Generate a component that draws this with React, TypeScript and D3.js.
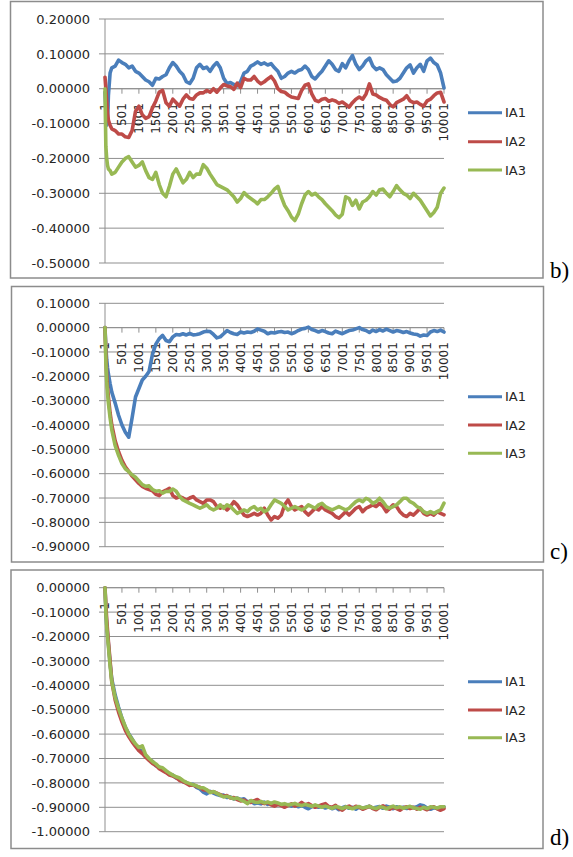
import React from "react";
import * as d3 from "d3";

// category axis: iteration index (1 .. 10001)
const STEPS: number[] = [1, 26, 51, 76, 101, 151, 201, ...d3.range(301, 10002, 100)];
const X_TICK_LABELS: number[] = d3.range(1, 10002, 500);
const SERIES_NAMES = ["IA1", "IA2", "IA3"];
const COLORS = ["#4A7EBB", "#BE4B48", "#98B954"];

// ---------- panel b ----------
const B_IA1 = [
  -0.01, -0.06, -0.105, -0.09, -0.02, 0.045, 0.06,
  0.065, 0.082, 0.075, 0.07, 0.06, 0.065, 0.05, 0.045, 0.035, 0.025,
  0.02, 0.01, 0.03, 0.028, 0.035, 0.04, 0.06, 0.075, 0.065, 0.05,
  0.04, 0.02, 0.015, 0.03, 0.06, 0.07, 0.058, 0.062, 0.05, 0.065,
  0.075, 0.06, 0.03, 0.015, 0.018, 0.012, 0.008, 0.02, 0.045, 0.05,
  0.065, 0.07, 0.077, 0.07, 0.074, 0.068, 0.072, 0.06, 0.05, 0.03,
  0.035, 0.045, 0.05, 0.045, 0.052, 0.055, 0.065, 0.055, 0.035, 0.028,
  0.04, 0.05, 0.065, 0.08, 0.07, 0.055, 0.05, 0.072, 0.06, 0.08,
  0.095, 0.07, 0.055, 0.065, 0.08, 0.088, 0.065, 0.055, 0.06, 0.055,
  0.04, 0.03, 0.02, 0.022, 0.03, 0.045, 0.06, 0.068, 0.045, 0.06,
  0.07, 0.05, 0.08, 0.088, 0.075, 0.068, 0.045, 0.002,
];
const B_IA2 = [
  0.033, 0.0, -0.035, -0.07, -0.09, -0.105, -0.115,
  -0.12, -0.13, -0.13, -0.138, -0.14, -0.12, -0.065, -0.05, -0.075, -0.085,
  -0.08, -0.055, -0.035, -0.01, -0.005, -0.04, -0.05, -0.03, -0.04, -0.05,
  -0.03, -0.018, -0.028, -0.03, -0.018, -0.012, -0.012, -0.005, -0.01, 0.0,
  -0.01, 0.002, 0.012, 0.008, 0.006, -0.002, 0.016, 0.003, 0.03, 0.025,
  0.025, 0.035, 0.022, 0.014, 0.02, 0.028, 0.035, 0.022, 0.0, -0.008,
  -0.01, -0.018, -0.024, -0.026, -0.028, -0.005, 0.01, 0.014, -0.015, -0.033,
  -0.037, -0.03, -0.028, -0.036, -0.032, -0.035, -0.042, -0.038, -0.045, -0.053,
  -0.04, -0.03, -0.024, -0.03, -0.015, 0.014, -0.015, -0.018, -0.025, -0.03,
  -0.033, -0.045, -0.052, -0.04, -0.035, -0.03, -0.02, -0.035, -0.04, -0.038,
  -0.045, -0.05, -0.035, -0.03, -0.02, -0.012, -0.01, -0.038,
];
const B_IA3 = [
  0.0, -0.165, -0.2, -0.22, -0.23, -0.235, -0.245,
  -0.24, -0.225, -0.21, -0.2, -0.195, -0.21, -0.225, -0.22, -0.21, -0.235,
  -0.255, -0.26, -0.24, -0.275, -0.3, -0.31, -0.28, -0.245, -0.23, -0.25,
  -0.27, -0.26, -0.24, -0.255, -0.245, -0.245, -0.218, -0.228, -0.245, -0.26,
  -0.275, -0.28, -0.285, -0.29, -0.3, -0.31, -0.325, -0.315, -0.298, -0.308,
  -0.315, -0.322, -0.33, -0.318, -0.318, -0.31, -0.3, -0.288, -0.28, -0.31,
  -0.335, -0.35, -0.368, -0.378, -0.36, -0.33, -0.305, -0.295, -0.305, -0.3,
  -0.31, -0.318, -0.33, -0.34, -0.35, -0.362, -0.37, -0.36, -0.31, -0.315,
  -0.335, -0.32, -0.345, -0.325, -0.32, -0.31, -0.295, -0.305, -0.29, -0.288,
  -0.3, -0.31, -0.295, -0.278, -0.29, -0.3, -0.305, -0.315, -0.3, -0.31,
  -0.32, -0.335, -0.35, -0.365, -0.355, -0.34, -0.3, -0.285,
];

// ---------- panel c ----------
const C_IA1 = [
  0.0, -0.08, -0.13, -0.165, -0.19, -0.23, -0.265,
  -0.31, -0.36, -0.4, -0.43, -0.45, -0.37, -0.285, -0.25, -0.215, -0.2,
  -0.18, -0.11, -0.068, -0.045, -0.032, -0.053, -0.058, -0.038, -0.028, -0.03,
  -0.025, -0.03, -0.024, -0.03, -0.028, -0.025, -0.018, -0.015, -0.016, -0.028,
  -0.042, -0.038, -0.025, -0.012, -0.02, -0.025, -0.028, -0.018, -0.022, -0.018,
  -0.02, -0.015, -0.005, -0.01, -0.015, -0.025, -0.02, -0.022, -0.018, -0.016,
  -0.02, -0.018, -0.025, -0.02, -0.012, -0.006, -0.003, 0.002, -0.008, -0.012,
  -0.018, -0.012, -0.016, -0.022, -0.025, -0.014, -0.02, -0.025, -0.018, -0.012,
  -0.01, -0.005, 0.0, -0.008, -0.012, -0.02, -0.01, -0.016, -0.008, -0.014,
  -0.006, -0.012, -0.018, -0.012, -0.015, -0.02, -0.016, -0.022, -0.026, -0.028,
  -0.035, -0.03, -0.032, -0.018, -0.012, -0.016, -0.01, -0.018,
];
const C_IA2 = [
  0.0, -0.11, -0.19, -0.245, -0.285, -0.35, -0.4,
  -0.465, -0.51, -0.545, -0.572, -0.59, -0.61, -0.625, -0.64, -0.652, -0.66,
  -0.665, -0.67, -0.685, -0.69, -0.675, -0.668, -0.66, -0.69, -0.7, -0.695,
  -0.7, -0.708, -0.7, -0.694, -0.708, -0.715, -0.722, -0.708, -0.708, -0.715,
  -0.735, -0.742, -0.735, -0.749, -0.735, -0.715, -0.728, -0.749, -0.77, -0.776,
  -0.77, -0.763, -0.77, -0.763, -0.742, -0.77, -0.79, -0.776, -0.783, -0.77,
  -0.728, -0.708, -0.735, -0.749, -0.742, -0.735, -0.756, -0.77, -0.756, -0.742,
  -0.749, -0.735, -0.749, -0.756, -0.763, -0.776, -0.783, -0.77, -0.756, -0.77,
  -0.756, -0.742, -0.735, -0.756, -0.742, -0.735, -0.728, -0.735, -0.722, -0.735,
  -0.756, -0.742, -0.728, -0.735, -0.756, -0.77, -0.776, -0.763, -0.77, -0.756,
  -0.742, -0.763, -0.77, -0.763, -0.77, -0.756, -0.763, -0.769,
];
const C_IA3 = [
  0.0, -0.14, -0.22, -0.27, -0.31, -0.37, -0.42,
  -0.485, -0.525, -0.558, -0.58, -0.592, -0.605, -0.615, -0.63, -0.645, -0.652,
  -0.65, -0.665, -0.672, -0.67, -0.68, -0.673, -0.673, -0.663, -0.672, -0.694,
  -0.708, -0.715, -0.722, -0.728, -0.735, -0.742, -0.735, -0.728, -0.742, -0.749,
  -0.742, -0.728, -0.742, -0.728, -0.735, -0.749, -0.763, -0.756, -0.749, -0.756,
  -0.742, -0.735, -0.749, -0.742, -0.756, -0.749, -0.728, -0.708, -0.715, -0.722,
  -0.735, -0.749, -0.742, -0.735, -0.742, -0.749, -0.742, -0.728, -0.735, -0.742,
  -0.728, -0.722, -0.735, -0.742, -0.749, -0.742, -0.735, -0.742, -0.749, -0.742,
  -0.728, -0.715, -0.708, -0.715, -0.701, -0.708, -0.722, -0.715, -0.701, -0.715,
  -0.735, -0.742, -0.735, -0.728, -0.715, -0.701, -0.701, -0.715, -0.722, -0.735,
  -0.742, -0.756, -0.763, -0.756, -0.763, -0.756, -0.749, -0.721,
];

// ---------- panel d ----------
const D_IA1 = [
  0.0, -0.09, -0.15, -0.19, -0.23, -0.31, -0.375,
  -0.44, -0.49, -0.535, -0.572, -0.598, -0.62, -0.645, -0.665, -0.67, -0.688,
  -0.703, -0.712, -0.73, -0.735, -0.748, -0.752, -0.765, -0.768, -0.78, -0.782,
  -0.795, -0.798, -0.808, -0.806, -0.818, -0.825, -0.838, -0.845, -0.835, -0.842,
  -0.848, -0.852, -0.85, -0.86, -0.858, -0.866, -0.862, -0.868, -0.865, -0.878,
  -0.874, -0.885, -0.882, -0.886, -0.879, -0.888, -0.884, -0.892, -0.887, -0.89,
  -0.893, -0.889, -0.895, -0.89, -0.898, -0.892, -0.9, -0.906, -0.898, -0.895,
  -0.9, -0.896, -0.903, -0.898, -0.906, -0.9, -0.91, -0.902, -0.897, -0.904,
  -0.9, -0.908, -0.899, -0.905, -0.9, -0.896, -0.903, -0.9, -0.897, -0.904,
  -0.895, -0.9, -0.906, -0.898, -0.903, -0.9, -0.905, -0.899, -0.902, -0.898,
  -0.89, -0.894, -0.903, -0.908, -0.902, -0.905, -0.9, -0.898,
];
const D_IA2 = [
  0.0, -0.07, -0.13, -0.175, -0.22, -0.3, -0.385,
  -0.46, -0.51, -0.55, -0.585, -0.61, -0.632, -0.65, -0.668, -0.68, -0.695,
  -0.708, -0.72, -0.728, -0.742, -0.75, -0.758, -0.768, -0.772, -0.778, -0.79,
  -0.795, -0.802, -0.81, -0.808, -0.815, -0.818, -0.828, -0.83, -0.838, -0.836,
  -0.842, -0.848, -0.855, -0.852, -0.862, -0.86, -0.868, -0.874, -0.87, -0.878,
  -0.88, -0.873, -0.868, -0.88, -0.885, -0.88, -0.89, -0.895, -0.888, -0.893,
  -0.9, -0.892, -0.886, -0.895, -0.89, -0.88, -0.89, -0.885, -0.893, -0.9,
  -0.895, -0.889, -0.885, -0.897, -0.9, -0.892, -0.905, -0.912, -0.9, -0.895,
  -0.904, -0.896, -0.9, -0.908, -0.902, -0.896, -0.905, -0.91, -0.9, -0.894,
  -0.903, -0.908, -0.9, -0.905, -0.912, -0.902, -0.898, -0.905, -0.9, -0.908,
  -0.9, -0.904, -0.91, -0.902, -0.898, -0.906, -0.912, -0.905,
];
const D_IA3 = [
  0.0, -0.1, -0.16, -0.2, -0.24, -0.32, -0.385,
  -0.45, -0.495, -0.535, -0.57, -0.6, -0.622, -0.64, -0.655, -0.648, -0.685,
  -0.7, -0.712, -0.722, -0.735, -0.738, -0.75, -0.76, -0.768, -0.775, -0.78,
  -0.79, -0.798, -0.803, -0.808, -0.812, -0.82, -0.82, -0.828, -0.84, -0.835,
  -0.843, -0.85, -0.858, -0.855, -0.86, -0.865, -0.862, -0.87, -0.875, -0.885,
  -0.872, -0.878, -0.88, -0.876, -0.882, -0.878, -0.884, -0.878, -0.882, -0.888,
  -0.885, -0.89, -0.888, -0.884, -0.89, -0.893, -0.888, -0.892, -0.896, -0.89,
  -0.895, -0.9, -0.895, -0.9, -0.904, -0.897, -0.9, -0.905, -0.898, -0.902,
  -0.906, -0.9, -0.897, -0.903, -0.9, -0.896, -0.902, -0.905, -0.898, -0.9,
  -0.906, -0.9, -0.895, -0.902, -0.898, -0.904, -0.9, -0.896, -0.902, -0.905,
  -0.908, -0.9, -0.905, -0.898, -0.9, -0.903, -0.898, -0.898,
];

const Y_TICKS_B = [0.2, 0.1, 0, -0.1, -0.2, -0.3, -0.4, -0.5];
const Y_TICKS_C = [0.1, 0, -0.1, -0.2, -0.3, -0.4, -0.5, -0.6, -0.7, -0.8, -0.9];
const Y_TICKS_D = [0, -0.1, -0.2, -0.3, -0.4, -0.5, -0.6, -0.7, -0.8, -0.9, -1.0];
const PANEL_LETTERS = ["b)", "c)", "d)"];

// ---------- layout ----------
const PLOT_LEFT = 105;
const PLOT_RIGHT = 444;
const LAYOUT = [
  { box: [10.5, 1.5, 532.5, 276.5], top: 19, bottom: 263, legend: [112.7, 141.7, 170], letterY: 277.5 },
  { box: [11.5, 286.5, 532, 275.5], top: 303.3, bottom: 546.7, legend: [396.7, 425, 453.3], letterY: 559 },
  { box: [11, 570, 532, 278.5], top: 587.7, bottom: 831.7, legend: [681.7, 710, 737.7], letterY: 844.5 },
];
const PANEL_DATA = [
  { series: [B_IA1, B_IA2, B_IA3], ticks: Y_TICKS_B },
  { series: [C_IA1, C_IA2, C_IA3], ticks: Y_TICKS_C },
  { series: [D_IA1, D_IA2, D_IA3], ticks: Y_TICKS_D },
];

const FONT = "DejaVu Sans";
const GRID = "#8f8f8f";
const TEXT = "#262626";

function fmt(v: number): string {
  const r = Math.round(v * 100000) / 100000;
  return (r === 0 ? 0 : r).toFixed(5);
}

function Panel({ idx }: { idx: number }) {
  const lay = LAYOUT[idx];
  const pd = PANEL_DATA[idx];
  const x = d3.scaleLinear().domain([1, 10001]).range([PLOT_LEFT, PLOT_RIGHT]);
  const y = d3
    .scaleLinear()
    .domain([d3.max(pd.ticks) as number, d3.min(pd.ticks) as number])
    .range([lay.top, lay.bottom]);
  const y0 = y(0);
  const line = d3
    .line<number>()
    .x((_, i) => x(STEPS[i]))
    .y((d) => y(d));
  const [bx, by, bw, bh] = lay.box;
  return (
    <g>
      <rect x={bx} y={by} width={bw} height={bh} fill="#fff" stroke="#8c8c8c" strokeWidth={1.5} />
      {pd.ticks.map((t) => (
        <g key={"g" + t}>
          <line x1={PLOT_LEFT} x2={PLOT_RIGHT} y1={y(t)} y2={y(t)} stroke={GRID} strokeWidth={1} />
          <line x1={PLOT_LEFT - 6} x2={PLOT_LEFT} y1={y(t)} y2={y(t)} stroke={GRID} strokeWidth={1} />
          <text
            x={90}
            y={y(t)}
            dy="0.36em"
            textAnchor="end"
            fontFamily={FONT}
            fontSize={13}
            fill={TEXT}
          >
            {fmt(t)}
          </text>
        </g>
      ))}
      <line x1={PLOT_LEFT} x2={PLOT_LEFT} y1={lay.top} y2={lay.bottom} stroke={GRID} strokeWidth={1} />
      <line x1={PLOT_LEFT} x2={PLOT_RIGHT} y1={y0} y2={y0} stroke={GRID} strokeWidth={1} />
      {X_TICK_LABELS.map((s) => (
        <g key={"x" + s}>
          <line x1={x(s)} x2={x(s)} y1={y0} y2={y0 + 5} stroke={GRID} strokeWidth={1} />
          <text
            transform={`translate(${x(s)},${y0 + 14.5}) rotate(-90)`}
            dy="0.36em"
            textAnchor="end"
            fontFamily={FONT}
            fontSize={12}
            fill={TEXT}
          >
            {String(s)}
          </text>
        </g>
      ))}
      {pd.series.map((s, i) => (
        <path
          key={"s" + i}
          d={line(s) || ""}
          fill="none"
          stroke={COLORS[i]}
          strokeWidth={3.6}
          strokeLinejoin="round"
          strokeLinecap="round"
        />
      ))}
      {SERIES_NAMES.map((n, i) => (
        <g key={"l" + n}>
          <line x1={468} x2={502} y1={lay.legend[i]} y2={lay.legend[i]} stroke={COLORS[i]} strokeWidth={3} />
          <text x={505} y={lay.legend[i]} dy="0.36em" fontFamily={FONT} fontSize={13} fill={TEXT}>
            {n}
          </text>
        </g>
      ))}
      <text x={550} y={lay.letterY} fontFamily="Liberation Serif" fontSize={23} fill="#000">
        {PANEL_LETTERS[idx]}
      </text>
    </g>
  );
}

export default function App() {
  return (
    <svg
      width={573}
      height={857}
      style={{ position: "absolute", left: 0, top: 0, background: "#fff" }}
    >
      <rect x={0} y={0} width={573} height={857} fill="#fff" />
      {[0, 1, 2].map((i) => (
        <Panel key={i} idx={i} />
      ))}
    </svg>
  );
}
